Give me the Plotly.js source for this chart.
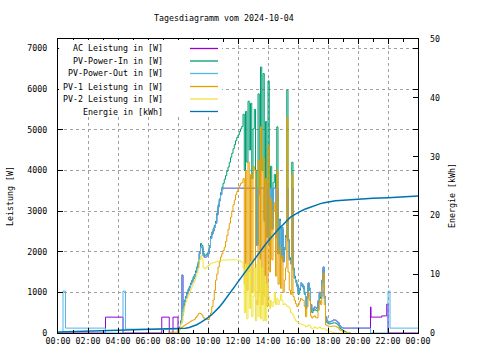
<!DOCTYPE html>
<html><head><meta charset="utf-8">
<script src="https://cdn.plot.ly/plotly-3.0.1.min.js"></script>
<style>html,body{margin:0;padding:0;background:#fff}#chart{width:480px;height:360px}</style>
</head><body><div id="chart"></div>
<script>
// ---------- DATA ----------
const chartTitle = "Tagesdiagramm vom 2024-10-04";
const seriesNames = ["AC Leistung in [W]", "PV-Power-In in [W]", "PV-Power-Out in [W]",
  "PV-1 Leistung in [W]", "PV-2 Leistung in [W]", "Energie in [kWh]"];
const xTickLabelFormat = "%H:%M";
const leftTitle = "Leistung [W]";
const rightTitle = "Energie [kWh]";

// Daytime samples: every 5 minutes from 08:00 to 19:30 (one row per hour)
const dayStart = "08:00", dayStepMin = 5;
const pvInDay = [
  0,150,300,420,650,810,900,1000,1080,1150,1230,1300,
  1380,1440,1530,1630,1750,2000,2200,2150,1960,1910,1920,1950,
  2000,2150,2380,2480,2560,2650,2750,2950,3150,3300,3450,3580,
  3680,3780,3870,3980,4080,4200,4320,4420,4530,4630,4730,4810,
  4870,4950,5020,5080,5380,4000,5450,4200,5700,4500,5650,3800,
  5020,5500,4000,2200,5880,3500,6540,4000,6380,2800,5200,2400,
  6200,2200,4100,2600,3700,3900,2400,5070,2000,2800,1900,2600,
  1800,2100,2400,5970,2300,1850,1750,4200,1600,1400,1300,1200,
  950,1050,1180,1150,1100,950,600,850,1180,1050,650,500,
  550,580,560,540,740,950,850,1250,1550,850,350,250,
  230,220,230,240,250,250,240,220,190,130,100,80,
  60,40,20,0,0,0,0];
const pvOutDay = [
  95,120,250,1425,600,770,860,960,1040,1110,1190,1260,
  1330,1390,1480,1580,1700,1950,2120,2090,1900,1860,1870,1900,
  1950,2100,2330,2430,2510,2600,2700,2900,3100,3250,3400,3530,
  3560,3560,3560,3560,3560,3560,3560,3560,3560,3560,3560,3560,
  3560,3560,3560,3560,3560,3560,3560,3560,3560,3560,3560,3560,
  3560,3560,3560,2150,3560,3400,3560,3560,3560,2750,3560,2350,
  3560,2150,3560,2550,3560,3560,2350,3560,1950,2750,1850,2550,
  1750,2050,2350,3560,2250,1800,1700,3560,1550,1350,1250,1150,
  1000,1100,1230,1200,1150,1000,650,900,1230,1100,700,560,
  600,640,620,600,800,1000,900,1300,1620,900,400,300,
  280,270,280,300,320,320,310,280,250,180,150,130,
  120,120,120,120,120,120,120];
const pv1Day = [
  40,80,120,150,170,190,210,230,250,270,290,310,
  320,340,380,420,470,490,470,440,380,340,335,330,
  330,420,490,650,810,1050,1300,1450,1620,1750,1870,1950,
  2030,2110,2250,2400,2550,2700,2850,3000,3150,3270,3400,3480,
  3560,3620,3680,3700,3800,1200,4000,1050,4200,1500,3900,1000,
  4100,4000,800,700,4250,1000,5070,700,4300,900,3800,650,
  4600,1500,3300,1800,3000,3200,1400,4000,1200,2100,1100,1900,
  1000,1300,1600,5300,1500,1050,950,3900,900,800,720,650,
  700,780,850,820,800,650,400,650,1000,800,420,370,
  400,420,380,370,560,800,700,1150,1470,700,200,180,
  170,160,160,170,170,170,160,140,120,80,60,50,
  30,25,20,20,15,10,0];
const pv2Day = [
  0,80,200,300,500,660,750,850,930,1000,1080,1150,
  1230,1290,1380,1480,1600,1800,1900,1820,1620,1580,1600,1630,
  1660,1690,1710,1720,1730,1740,1750,1760,1770,1780,1790,1790,
  1790,1790,1800,1800,1800,1800,1800,1800,1800,1800,1800,1790,
  1790,1780,1760,1740,1600,500,1700,350,1650,600,1750,400,
  900,1600,300,1700,400,1800,350,1600,300,1400,300,1200,
  900,600,800,650,750,1000,700,850,700,800,950,800,
  700,720,700,650,650,600,500,480,420,350,300,270,
  250,230,220,200,200,180,150,160,200,180,130,100,
  120,150,130,110,130,150,120,100,110,100,80,60,
  50,40,30,20,10,0,0,0,0,0,0,0,
  0,0,0,0,0,0,0];

// Night / evening samples (irregular times)
const pvOutNightT = ["00:00","00:20","00:30","03:10","04:20","04:30"];
const pvOutNightV = [0,1030,120,0,1030,95];
const pvOutEveT = ["19:35","20:50","22:00","22:08","24:00"];
const pvOutEveV = [120,0,1030,120,120];
const acNightT = ["00:00","03:10","04:20","06:55","07:25","07:40","08:00"];
const acNightV = [0,390,0,390,0,390,0];
const acEveT = ["19:35","20:50","20:52","21:35","21:55","22:00","24:00"];
const acEveV = [120,640,390,420,710,0,0];
const pv1MorningT = ["07:20"];
const pv1MorningV = [20];

const energyT = ["00:00","02:00","04:00","06:00","07:30",
  "08:00","08:15","08:30","08:45","09:00","09:15","09:30","09:45",
  "10:00","10:15","10:30","10:45","11:00","11:15","11:30","11:45",
  "12:00","12:15","12:30","12:45","13:00","13:15","13:30","13:45",
  "14:00","14:15","14:30","14:45","15:00","15:15","15:30","15:45",
  "16:00","16:15","16:30","16:45","17:00","17:15","17:30","17:45",
  "18:00","18:15","18:30","18:45","19:00","19:30","20:00","21:00",
  "22:00","23:00","24:00"];
const energyV = [0.15,0.3,0.42,0.55,0.62,
  0.68,0.72,0.8,0.95,1.15,1.4,1.75,2.15,
  2.6,3.1,3.7,4.4,5.2,6.0,6.9,7.8,
  8.7,9.6,10.5,11.4,12.3,13.1,14.0,14.8,
  15.6,16.4,17.1,17.8,18.4,19.0,19.7,20.1,
  20.5,20.8,21.1,21.35,21.6,21.8,22.0,22.15,
  22.3,22.4,22.5,22.55,22.6,22.7,22.75,22.9,
  23.0,23.2,23.3];

const colors = ["#9400d3","#009e73","#56b4e9","#e69f00","#f0e442","#0072b2"];

// ---------- HELPERS ----------
function toX(t){
  const [h,m] = t.split(':').map(Number);
  if (h === 24) return '2024-10-05 00:00';
  return '2024-10-04 ' + String(h).padStart(2,'0') + ':' + String(m).padStart(2,'0');
}
function dayTimes(n){
  const [h0,m0] = dayStart.split(':').map(Number);
  const out = [];
  for (let i=0;i<n;i++){ const mm = h0*60+m0+i*dayStepMin; out.push(String(Math.floor(mm/60)).padStart(2,'0')+':'+String(mm%60).padStart(2,'0')); }
  return out;
}
const tDay = dayTimes(pvInDay.length);

function tr(times, vals, color, yaxis, width, shape){
  return {x: times.map(toX), y: vals, type:'scatter', mode:'lines',
    line:{color:color, width:width||1, shape:shape||'hv'}, yaxis: yaxis||'y', showlegend:false, hoverinfo:'skip'};
}

const traces = [
  tr(acNightT.concat(tDay.slice(1), acEveT), acNightV.concat(pvOutDay.slice(1), acEveV), colors[0]),
  tr(tDay, pvInDay, colors[1]),
  tr(pvOutNightT.concat(tDay, pvOutEveT), pvOutNightV.concat(pvOutDay, pvOutEveV), colors[2]),
  tr(pv1MorningT.concat(tDay), pv1MorningV.concat(pv1Day), colors[3]),
  tr(tDay, pv2Day, colors[4]),
  tr(energyT, energyV, colors[5], 'y2', 1.5, 'linear')
];

// ---------- LAYOUT ----------
const L = 58, R = 418, T = 39, B = 333;
const pw = R-L, ph = B-T;
const px = x => (x-L)/pw, py = y => (B-y)/ph;
const font = {family:'"DejaVu Sans Mono", monospace', size:8.3, color:'#000'};
const gridStyle = {showgrid:true, gridcolor:'#a0a0a0', griddash:'3px,3px', gridwidth:1};

const annotations = [
  {text: chartTitle, xref:'paper', yref:'paper', x:px(223.5), y:py(18), showarrow:false, xanchor:'center', yanchor:'middle', font},
  {text: leftTitle, xref:'paper', yref:'paper', x:px(10), y:py(196), showarrow:false, textangle:-90, xanchor:'center', yanchor:'middle', font},
  {text: rightTitle, xref:'paper', yref:'paper', x:px(452), y:py(196), showarrow:false, textangle:-90, xanchor:'center', yanchor:'middle', font}
];
const shapes = [
  {type:'rect', xref:'paper', yref:'paper', x0:0.003, x1:px(222), y0:py(116), y1:0.997, fillcolor:'#ffffff', line:{width:0}, layer:'above'}
];
const legendY = [48.5, 61, 73.5, 86.5, 99, 111.5];
seriesNames.forEach((n,i)=>{
  annotations.push({text:n, xref:'paper', yref:'paper', x:px(165), y:py(legendY[i]), showarrow:false, xanchor:'right', yanchor:'middle', font});
  shapes.push({type:'line', xref:'paper', yref:'paper', x0:px(190), x1:px(218), y0:py(legendY[i]), y1:py(legendY[i]), line:{color:colors[i], width:1.3}, layer:'above'});
});

const layout = {
  width:480, height:360, margin:{l:L, r:480-R, t:T, b:360-B, pad:0},
  paper_bgcolor:'#fff', plot_bgcolor:'#fff', font, showlegend:false,
  xaxis: Object.assign({type:'date', range:['2024-10-04 00:00','2024-10-05 00:00'], tick0:'2024-10-04 00:00', dtick:7200000,
    tickformat:xTickLabelFormat, ticks:'inside', ticklen:5, tickcolor:'#000', showline:true, linecolor:'#000', linewidth:1, mirror:'ticks',
    minor:{dtick:3600000, ticks:'inside', ticklen:3, tickcolor:'#000', showgrid:false}, zeroline:false, tickfont:font, fixedrange:true}, gridStyle),
  yaxis: Object.assign({range:[0,7230], dtick:1000, tick0:0, ticks:'inside', ticklen:5, tickcolor:'#000', showline:true, linecolor:'#000', linewidth:1,
    mirror:'ticks', zeroline:false, tickfont:font, ticklabelstandoff:8}, gridStyle),
  yaxis2: {overlaying:'y', side:'right', range:[0,50], dtick:10, tick0:0, ticks:'inside', ticklen:5, tickcolor:'#000', showgrid:false,
    zeroline:false, showline:false, tickfont:font, ticklabelstandoff:11},
  annotations, shapes
};
Plotly.newPlot('chart', traces, layout, {staticPlot:true, displayModeBar:false});
</script></body></html>
